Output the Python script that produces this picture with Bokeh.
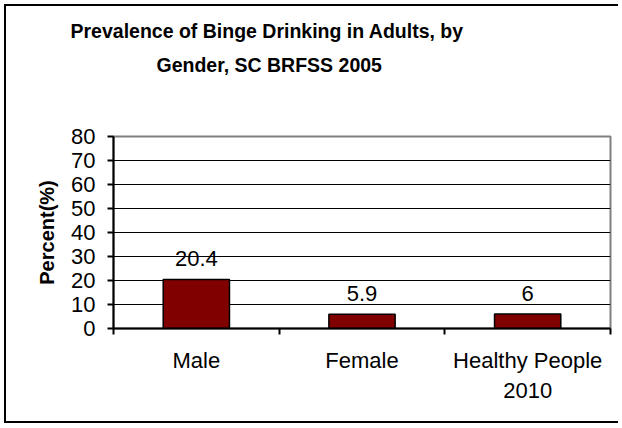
from bokeh.plotting import figure
from bokeh.models import Range1d, FixedTicker, ColumnDataSource, Title
from bokeh.core.properties import value
from bokeh.embed import file_html
from bokeh.resources import INLINE

# ---- data ----
categories = ["Male", "Female", "Healthy People\n2010"]
percent = [20.4, 5.9, 6.0]
value_labels = ["20.4", "5.9", "6"]
y_ticks = [0, 10, 20, 30, 40, 50, 60, 70, 80]
grid_ticks = [10, 20, 30, 40, 50, 60, 70]
title_lines = ["Prevalence of Binge Drinking in  Adults, by", "Gender, SC BRFSS 2005"]
y_label = "Percent(%)"

FONT = "Liberation Sans"
BAR = "#800000"

n = len(categories)
centers = [i + 0.5 for i in range(n)]          # category slot centres
edges = list(range(n + 1))                      # category slot boundaries

src = ColumnDataSource(dict(x=centers, pct=percent, lab=value_labels))

p = figure(width=614, height=419,
           x_range=Range1d(0, n), y_range=Range1d(0, 80),
           output_backend="svg", toolbar_location=None,
           x_axis_location="below", y_axis_location="left",
           min_border_left=107, min_border_right=10,
           min_border_top=130, min_border_bottom=97)

p.styles = {"margin-left": "4px", "margin-top": "4px",
            "border-top": "2px solid black", "border-left": "2px solid black",
            "border-bottom": "2px solid black"}
p.background_fill_color = "white"
p.border_fill_color = "white"
p.outline_line_color = "#808080"
p.outline_line_width = 2

# title (second line nearest the frame, first line above it)
t2 = Title(text=title_lines[1], align="left", offset=43,
           text_font=FONT, text_font_style="bold", text_font_size="19.5px",
           text_color="black",
           padding=dict(left=0, right=0, top=0, bottom=56))
p.add_layout(t2, "above")
t1 = Title(text=title_lines[0], align="left", offset=-43,
           text_font=FONT, text_font_style="bold", text_font_size="19.5px",
           text_color="black",
           padding=dict(left=0, right=0, top=0, bottom=0))
p.add_layout(t1, "above")

# bars
p.vbar(x="x", top="pct", width=0.4, source=src,
       fill_color=BAR, line_color="black", line_width=1.5)

# value labels
p.text(x="x", y="pct", text="lab", source=src,
       text_align="center", text_baseline="alphabetic", y_offset=-21,
       text_font=value(FONT), text_font_size="22px", text_color="black")

# y axis
ya = p.yaxis[0]
ya.ticker = FixedTicker(ticks=y_ticks)
ya.axis_line_width = 2
ya.axis_line_color = "black"
ya.major_tick_in = 0
ya.major_tick_out = 6
ya.major_tick_line_width = 2
ya.minor_tick_line_color = None
ya.major_label_standoff = 12
ya.major_label_text_font = FONT
ya.major_label_text_font_size = "22px"
ya.major_label_text_color = "black"
ya.axis_label = y_label
ya.axis_label_text_font = FONT
ya.axis_label_text_font_style = "bold"
ya.axis_label_text_font_size = "20px"
ya.axis_label_text_color = "black"
ya.axis_label_standoff = 10

# grid
p.ygrid.ticker = FixedTicker(ticks=grid_ticks)
p.ygrid.grid_line_color = "black"
p.ygrid.grid_line_width = 1
p.xgrid.visible = False

# x axis: labels at slot centres, tick marks at slot boundaries
xa = p.xaxis[0]
xa.ticker = FixedTicker(ticks=centers, minor_ticks=edges)
xa.major_label_overrides = {c: name for c, name in zip(centers, categories)}
xa.major_label_text_font = FONT
xa.major_label_text_font_size = "22px"
xa.major_label_text_color = "black"
xa.major_label_standoff = 13
xa.axis_line_width = 2
xa.axis_line_color = "black"
xa.major_tick_line_color = None
xa.major_tick_in = 0
xa.major_tick_out = 6
xa.minor_tick_line_color = "black"
xa.minor_tick_line_width = 2
xa.minor_tick_in = 0
xa.minor_tick_out = 6

open("out.html", "w").write(file_html(p, INLINE))
